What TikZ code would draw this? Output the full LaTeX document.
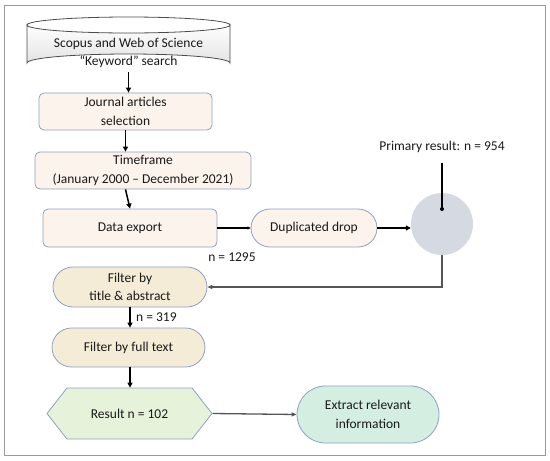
\documentclass[tikz,border=0pt]{standalone}
\usepackage{fontspec}
\setmainfont{Carlito}
\usetikzlibrary{arrows.meta,shapes.geometric,shapes.misc,shapes.symbols}
\definecolor{boxfill}{HTML}{FCF3EC}
\definecolor{boxline}{HTML}{8EA0C2}
\definecolor{filtfill}{HTML}{F4ECD6}
\definecolor{hexfill}{HTML}{E6F3DA}
\definecolor{extfill}{HTML}{D4EFE2}
\definecolor{circfill}{HTML}{D5D9E1}
\definecolor{gline}{HTML}{555555}
\tikzset{
  txt/.style={font=\fontsize{13.5}{18.5}\selectfont, align=center, text=black!90},
  rbox/.style={txt, draw=boxline, fill=boxfill, line width=0.8pt, rounded corners=5pt, inner sep=0pt},
  stad/.style={txt, draw=boxline, line width=0.8pt, rounded rectangle, inner sep=0pt},
  blk/.style={black, line width=1.5pt, -{Triangle[length=5pt,width=5pt]}},
  gry/.style={gline, line width=1.3pt, -{Triangle[length=5pt,width=4pt]}},
}
\begin{document}
\begin{tikzpicture}[x=1pt,y=-1pt]
\useasboundingbox (0,0) rectangle (550,461);
\draw[gray!80, line width=1pt] (4,5) rectangle (545,455);
% cylinder
\path[shade, top color=white, bottom color=gray!22, draw=black!70, line width=0.8pt]
  (27,25) -- (27,63) arc[start angle=180, end angle=360, x radius=101.5, y radius=9] -- (230,25)
  arc[start angle=0, end angle=180, x radius=101.5, y radius=8] -- cycle;
\draw[black!70, line width=0.8pt] (27,25) arc[start angle=180, end angle=360, x radius=101.5, y radius=8];
\node[txt, minimum width=203pt, minimum height=47pt, inner sep=0pt] (scop) at (128.5,53) {Scopus and Web of Science\\``Keyword'' search};
\node[rbox, minimum width=173pt, minimum height=37pt] (jour) at (125.5,111.5) {Journal articles\\selection};
\node[rbox, minimum width=216pt, minimum height=37pt] (time) at (143,170.5) {Timeframe\\(January 2000 -- December 2021)};
\node[rbox, minimum width=174pt, minimum height=38pt] (data) at (130,228) {Data export};
\node[stad, fill=boxfill, minimum width=126pt, minimum height=38pt] (dup) at (314,228) {Duplicated drop};
\node[circle, fill=circfill, minimum size=62pt, inner sep=0pt] (circ) at (442,224) {};
\coordinate (dot) at (442,209);
\fill (dot) circle (2pt);
\node[txt, inner sep=1pt] (prim) at (442,147) {Primary result: n = 954};
\node[stad, fill=filtfill, minimum width=154pt, minimum height=40pt] (f1) at (130,287) {Filter by\\title \& abstract};
\node[stad, fill=filtfill, minimum width=153pt, minimum height=39pt] (f2) at (128.5,347.5) {Filter by full text};
\node[txt, draw=boxline, fill=hexfill, line width=0.8pt, signal, signal to=east and west, signal pointer angle=104, minimum width=165pt, minimum height=51pt, inner sep=0pt] (res) at (129.5,413.5) {Result n = 102};
\node[stad, fill=extfill, minimum width=142pt, minimum height=57pt] (ext) at (368,414.5) {Extract relevant\\information};
\node[txt, inner sep=0pt] (n1295) at (232,257) {n = 1295};
\node[txt, inner sep=0pt, anchor=west] (n319) at (136,317) {n = 319};
% connectors
\draw[blk] (scop.south |- 0,72) -- (jour.north -| scop.south);
\draw[blk] (jour.south) -- (time.north -| jour.south);
\draw[blk] (time.south -| jour.south) -- (data.north);
\draw[black, line width=2pt, -{Triangle[length=3pt,width=3pt]}] (data.east) -- (dup.west);
\draw[black, line width=2pt, -{Triangle[length=5pt,width=5pt]}] (dup.east) -- (dup.east -| circ.west);
\draw[black, line width=1.3pt] (prim.south) ++(0,9) -- (dot);
\draw[gry] (circ.south) |- (f1.east);
\draw[blk] (f1.south) -- (f2.north -| f1.south);
\draw[blk] (f2.south -| f1.south) -- (res.north -| f1.south);
\draw[gry] (res.east) -- (ext.west);
\end{tikzpicture}
\end{document}
